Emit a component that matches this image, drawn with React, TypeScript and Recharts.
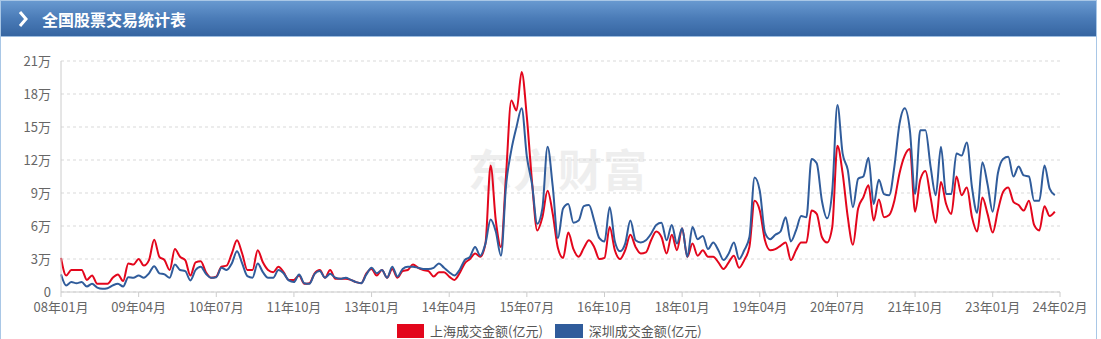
import React from "react";
import { LineChart, Line, XAxis, YAxis, CartesianGrid } from "recharts";

// Monthly turnover, 亿元, 2008-01 .. 2024-02 (last month has no value yet)
const shanghai: (number | null)[] = [
  31000, 15000, 20000, 20000, 20000, 11000, 15000, 7500, 7500, 7500, 13000, 16000,
  10000, 26000, 25000, 30000, 24000, 29000, 47500, 32000, 29000, 20000, 39000, 32000,
  29000, 15000, 27000, 28000, 18000, 13000, 14000, 23000, 24000, 35000, 47000, 35000,
  20000, 20000, 38000, 27000, 20000, 18000, 23000, 18000, 11000, 11000, 15000, 7500,
  8000, 17000, 20000, 13000, 20000, 12000, 12000, 12000, 11000, 9000, 8000, 17000,
  21000, 15000, 20000, 13000, 21000, 13000, 19000, 20000, 25000, 22000, 20000, 19000,
  14000, 18000, 18000, 14000, 11000, 17000, 26000, 30000, 35000, 32000, 44000, 115000,
  65000, 41000, 108000, 174000, 165000, 200000, 159000, 100000, 56000, 68000, 92000, 71000,
  40000, 31000, 54000, 39000, 32000, 40000, 47000, 41000, 30000, 31000, 59000, 38000,
  30000, 38000, 52000, 41000, 35000, 36000, 47000, 55000, 50000, 35000, 52000, 38000,
  58000, 32000, 44000, 33000, 38000, 32000, 32000, 27000, 21000, 27000, 33000, 22000,
  29000, 41000, 83000, 74000, 47000, 38000, 39000, 42000, 45000, 29000, 38000, 45000,
  45000, 74000, 71000, 50000, 45000, 59000, 133000, 108000, 68000, 43000, 76000, 86000,
  97000, 65000, 84000, 68000, 70000, 83000, 108000, 124000, 130000, 73000, 102000, 110000,
  86000, 63000, 100000, 80000, 71000, 105000, 88000, 95000, 68000, 55000, 86000, 71000,
  54000, 74000, 91000, 95000, 82000, 79000, 74000, 83000, 61000, 56000, 78000, 69000,
  73000, null,
];

const shenzhen: (number | null)[] = [
  16000, 6000, 9000, 8000, 9000, 5000, 7500, 4000, 3000, 3500, 6000, 7500,
  5000, 13500, 13000, 15000, 13000, 17000, 23500, 17000, 16000, 13000, 25000, 20000,
  19000, 10500, 20000, 23000, 16500, 13000, 13500, 22000, 20000, 26000, 37000, 26000,
  14500, 13000, 26000, 18000, 13000, 13000, 20000, 17000, 10500, 9000, 16000, 8000,
  7500, 16500, 19000, 13000, 16500, 13000, 12000, 13000, 11000, 9000, 8000, 16000,
  22000, 17000, 20000, 13000, 23000, 14000, 21000, 23000, 23000, 22000, 21000, 21000,
  22000, 26000, 22000, 18000, 15000, 20000, 29000, 32000, 41000, 33000, 44000, 66000,
  55000, 33000, 98000, 129000, 150000, 167000, 123000, 98000, 62000, 76000, 132000, 96000,
  49000, 76000, 80000, 63000, 65000, 78000, 79000, 65000, 49000, 46000, 77000, 46000,
  37000, 44000, 65000, 47000, 45000, 47000, 53000, 61000, 63000, 47000, 61000, 44000,
  58000, 32000, 59000, 48000, 51000, 39000, 45000, 38000, 29000, 35000, 45000, 30000,
  38000, 50000, 104000, 92000, 54000, 48000, 52000, 55000, 68000, 46000, 56000, 69000,
  68000, 121000, 117000, 83000, 67000, 92000, 170000, 126000, 111000, 77000, 103000, 105000,
  122000, 80000, 102000, 89000, 88000, 114000, 153000, 167000, 147000, 89000, 147000, 147000,
  114000, 88000, 132000, 89000, 89000, 126000, 124000, 136000, 95000, 72000, 118000, 98000,
  73000, 108000, 121000, 123000, 105000, 114000, 106000, 105000, 83000, 83000, 115000, 94000,
  88000, null,
];

const firstYear = 2008;
const monthCount = 194;
const months: string[] = [];
for (let i = 0; i < monthCount; i++) {
  const y = firstYear + Math.floor(i / 12);
  const m = (i % 12) + 1;
  months.push(`${String(y % 100).padStart(2, "0")}年${String(m).padStart(2, "0")}月`);
}

const xTicks = [
  "08年01月", "09年04月", "10年07月", "11年10月", "13年01月", "14年04月", "15年07月",
  "16年10月", "18年01月", "19年04月", "20年07月", "21年10月", "23年01月", "24年02月",
];
const yTicks = [0, 30000, 60000, 90000, 120000, 150000, 180000, 210000];

const seriesNames = ["上海成交金额(亿元)", "深圳成交金额(亿元)"];
const RED = "#e3061c";
const BLUE = "#305c9b";

const data = months.map((m, i) => ({ month: m, sh: shanghai[i], sz: shenzhen[i] }));

const FONT = '"Microsoft YaHei","Noto Sans CJK SC","Noto Sans",sans-serif';

export default function App() {
  return (
    <div
      style={{
        position: "absolute",
        left: 0,
        top: 0,
        width: 1101,
        height: 339,
        background: "#fff",
        overflow: "hidden",
        fontFamily: FONT,
      }}
    >
      {/* outer frame */}
      <div
        style={{
          position: "absolute",
          left: 0,
          top: 0,
          width: 1097,
          height: 345,
          border: "1px solid #a9c7e6",
          boxSizing: "border-box",
        }}
      />
      {/* header */}
      <div
        style={{
          position: "absolute",
          left: 1,
          top: 1,
          width: 1095,
          height: 36,
          background: "linear-gradient(to bottom, #6899d0 0%, #4a7bb7 50%, #3665a1 100%)",
          borderBottom: "1px solid #9dbde0",
          boxSizing: "border-box",
        }}
      >
        <svg width={20} height={20} style={{ position: "absolute", left: 12, top: 8 }}>
          <polyline points="7,3 13,10 7,17" fill="none" stroke="#fff" strokeWidth={3} />
        </svg>
        <div
          style={{
            position: "absolute",
            left: 41,
            top: 0,
            height: 36,
            lineHeight: "36px",
            color: "#fff",
            fontWeight: "bold",
            fontSize: 16,
          }}
        >
          全国股票交易统计表
        </div>
      </div>
      {/* watermark */}
      <div
        style={{
          position: "absolute",
          left: 468,
          top: 136,
          fontSize: 44,
          fontWeight: "bold",
          color: "#eeeeee",
          letterSpacing: 1,
        }}
      >
        东方财富
      </div>
      <div style={{ position: "absolute", left: 0, top: 0 }}>
        <LineChart
          width={1101}
          height={339}
          data={data}
          margin={{ top: 61, right: 41, bottom: 27, left: 0 }}
        >
          <CartesianGrid vertical={false} stroke="#d9d9d9" strokeDasharray="3 3" />
          <XAxis
            dataKey="month"
            ticks={xTicks}
            interval={0}
            height={20}
            tickSize={5}
            tickMargin={6}
            axisLine={{ stroke: "#cccccc" }}
            tickLine={{ stroke: "#cccccc" }}
            tick={{ fill: "#666", fontSize: 13, fontFamily: FONT }}
          />
          <YAxis
            width={61}
            domain={[0, 210000]}
            ticks={yTicks}
            interval={0}
            tickLine={false}
            tickMargin={4}
            axisLine={{ stroke: "#cccccc" }}
            tick={{ fill: "#666", fontSize: 13, fontFamily: FONT }}
            tickFormatter={(v: number) => (v === 0 ? "0" : `${v / 10000}万`)}
          />
          <Line
            type="monotone"
            dataKey="sh"
            name={seriesNames[0]}
            stroke={RED}
            strokeWidth={2}
            dot={false}
            isAnimationActive={false}
          />
          <Line
            type="monotone"
            dataKey="sz"
            name={seriesNames[1]}
            stroke={BLUE}
            strokeWidth={2}
            dot={false}
            isAnimationActive={false}
          />
        </LineChart>
      </div>
      {/* legend */}
      <div
        style={{
          position: "absolute",
          left: 397,
          top: 321,
          display: "flex",
          alignItems: "center",
          fontSize: 13,
          color: "#555",
          whiteSpace: "nowrap",
        }}
      >
        <span style={{ display: "inline-block", width: 27, height: 14, background: RED, marginRight: 6 }} />
        <span style={{ marginRight: 12 }}>{seriesNames[0]}</span>
        <span style={{ display: "inline-block", width: 28, height: 14, background: BLUE, marginRight: 6 }} />
        <span>{seriesNames[1]}</span>
      </div>
    </div>
  );
}
